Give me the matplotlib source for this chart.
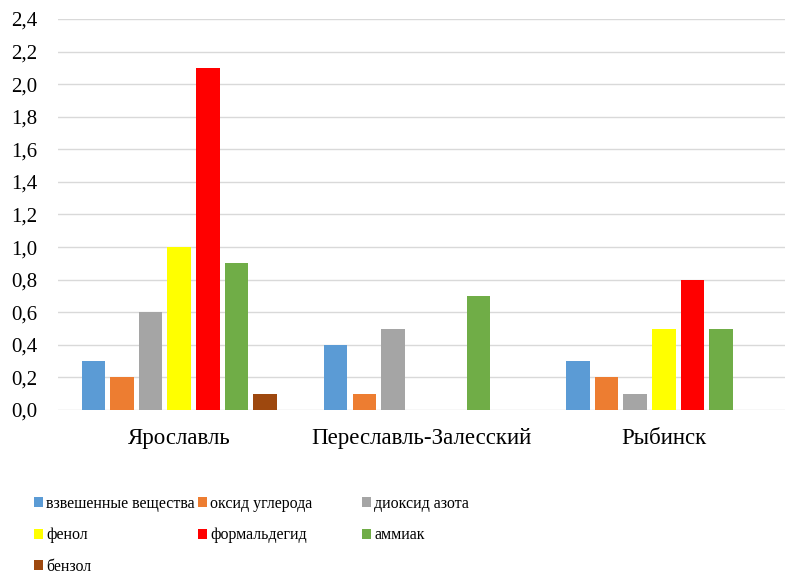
import matplotlib
matplotlib.use('Agg')
import matplotlib.pyplot as plt
import numpy as np

FONT = ['Liberation Serif']
plt.rcParams['font.family'] = FONT

# города
cities = ['Ярославль', 'Переславль-Залесский', 'Рыбинск']

# вещества и значения по городам
substances = ['взвешенные вещества', 'оксид углерода', 'диоксид азота',
              'фенол', 'формальдегид', 'аммиак', 'бензол']
colors = ['#5B9BD5', '#ED7D31', '#A5A5A5', '#FFFF00', '#FF0000', '#70AD47', '#9E480E']

vzvesh = [0.3, 0.4, 0.3]
oksid = [0.2, 0.1, 0.2]
dioksid = [0.6, 0.5, 0.1]
fenol = [1.0, 0.0, 0.5]
formald = [2.1, 0.0, 0.8]
ammiak = [0.9, 0.7, 0.5]
benzol = [0.1, 0.0, 0.0]
series = [vzvesh, oksid, dioksid, fenol, formald, ammiak, benzol]

y_ticks = np.arange(0, 2.41, 0.2)

fig = plt.figure(figsize=(7.9, 5.88), dpi=100)
ax = fig.add_axes([58/790, 1-410/588, (785-58)/790, (410-19)/588])

x = np.arange(len(cities))
slot = 0.118
width = 0.097
bars = []
for i, (vals, c) in enumerate(zip(series, colors)):
    b = ax.bar(x + (i - 3) * slot, vals, width=width, color=c, zorder=3)
    bars.append(b)

ax.set_xlim(-0.5, 2.5)
ax.set_ylim(0, 2.4)
ax.set_yticks(y_ticks)
ax.set_yticklabels([f"{v:.1f}".replace('.', ',') for v in y_ticks])
ax.set_xticks(x)
ax.set_xticklabels(cities)
for t in ax.get_yticklabels():
    t.set_fontfamily(FONT)
    t.set_fontsize(15)
for t in ax.get_xticklabels():
    t.set_fontfamily(FONT)
    t.set_fontsize(16.5)
ax.tick_params(axis='both', length=0)
ax.tick_params(axis='y', pad=15)
ax.tick_params(axis='x', pad=13)
ax.yaxis.grid(True, color='#D9D9D9', linewidth=1.0, zorder=0)
for s in ax.spines.values():
    s.set_visible(False)

# легенда: три колонки фиксированной ширины
cols = [[0, 3, 6], [1, 4], [2, 5]]
col_x = [34, 198, 362]
for idx, cx in zip(cols, col_x):
    leg = fig.legend([bars[k] for k in idx], [substances[k] for k in idx],
                     loc='upper left', bbox_to_anchor=(cx/790, 1-496/588),
                     frameon=False, fontsize=11.5,
                     handlelength=0.56, handleheight=0.56, handletextpad=0.2,
                     labelspacing=0.96, borderaxespad=0, borderpad=0)
    for t in leg.get_texts():
        t.set_fontfamily(FONT)

fig.savefig('out.png', dpi=100)
